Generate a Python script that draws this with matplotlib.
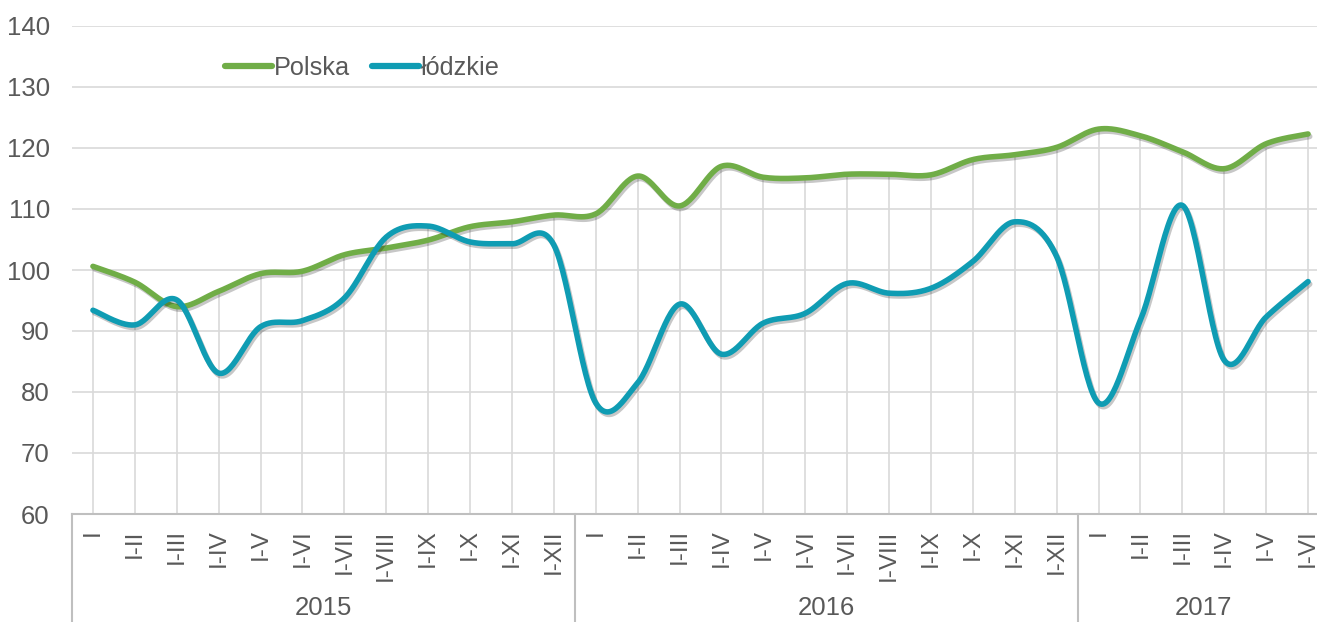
import numpy as np
import matplotlib
matplotlib.use("Agg")
import matplotlib.pyplot as plt
import matplotlib.patheffects as pe

plt.rcParams['font.family'] = ['Liberation Sans', 'DejaVu Sans']

months = ['I', 'I-II', 'I-III', 'I-IV', 'I-V', 'I-VI', 'I-VII', 'I-VIII',
          'I-IX', 'I-X', 'I-XI', 'I-XII']
years = ['2015', '2016', '2017']
year_lengths = [12, 12, 6]
labels = months + months + months[:6]

polska = [100.6, 98.0, 94.0, 96.5, 99.4, 99.8, 102.5, 103.6, 104.9, 107.1, 107.9, 109.0,
          109.2, 115.4, 110.5, 117.0, 115.2, 115.1, 115.7, 115.7, 115.6, 118.1, 118.9, 120.1,
          123.1, 122.0, 119.4, 116.6, 120.7, 122.3]
lodzkie = [93.4, 91.0, 95.1, 83.1, 90.7, 91.7, 95.4, 105.4, 107.2, 104.6, 104.3, 104.1,
           78.2, 81.5, 94.4, 86.2, 91.3, 92.9, 97.8, 96.2, 97.0, 101.4, 107.9, 102.2,
           78.2, 91.8, 110.6, 85.2, 92.3, 98.1]

GREEN = '#70AD47'
TEAL = '#0F9CB3'
GRID = '#D9D9D9'
TEXT = '#595959'


def smooth(y, n=30):
    # Catmull-Rom style bezier smoothing, like Excel's smoothed line
    y = np.asarray(y, float)
    x = np.arange(len(y), dtype=float)
    px = np.concatenate([[x[0]], x, [x[-1]]])
    py = np.concatenate([[y[0]], y, [y[-1]]])
    xs, ys = [], []
    t = np.linspace(0, 1, n)
    for i in range(len(y) - 1):
        p0 = np.array([px[i + 1], py[i + 1]])
        p3 = np.array([px[i + 2], py[i + 2]])
        b1 = p0 + (p3 - np.array([px[i], py[i]])) / 6
        b2 = p3 - (np.array([px[i + 3], py[i + 3]]) - p0) / 6
        pts = ((1 - t) ** 3)[:, None] * p0 + (3 * (1 - t) ** 2 * t)[:, None] * b1 \
            + (3 * (1 - t) * t ** 2)[:, None] * b2 + (t ** 3)[:, None] * p3
        xs.append(pts[:, 0])
        ys.append(pts[:, 1])
    return np.concatenate(xs), np.concatenate(ys)


fig = plt.figure(figsize=(13.17, 6.22), dpi=100)
ax = fig.add_axes([72 / 1317, 1 - 514 / 622, 1257 / 1317, 488 / 622])

n = len(labels)
x = np.arange(n)
ax.set_xlim(-0.5, n - 0.5)
ax.set_ylim(60, 140)

# horizontal gridlines
ax.set_yticks(range(60, 141, 10))
for v in range(70, 141, 10):
    ax.axhline(v, color=GRID, lw=1.2, zorder=0)

# drop lines from the higher series down to the axis
ax.vlines(x, 60, np.maximum(polska, lodzkie), color=GRID, lw=1.2, zorder=0)

shadow = [pe.SimpleLineShadow(offset=(1.2, -1.8), shadow_color='black', alpha=0.22),
          pe.Normal()]
sx, sy = smooth(polska)
ax.plot(sx, sy, color=GREEN, lw=4, solid_capstyle='round', label='Polska',
        path_effects=shadow, zorder=3)
sx, sy = smooth(lodzkie)
ax.plot(sx, sy, color=TEAL, lw=4, solid_capstyle='round', label='łódzkie',
        path_effects=shadow, zorder=3)

for s in ['top', 'right', 'left']:
    ax.spines[s].set_visible(False)
ax.spines['bottom'].set_color('#BFBFBF')
ax.spines['bottom'].set_linewidth(1.5)

ax.set_xticks(x)
ax.set_xticklabels(labels, rotation=90, va='top', ha='center')
ax.tick_params(axis='x', length=0, pad=11, labelsize=17.5, labelcolor=TEXT)
ax.tick_params(axis='y', length=0, pad=16, labelsize=18.5, labelcolor=TEXT)

# year group separators and labels
trans = ax.get_xaxis_transform()
bottom = -(1 - 514 / 622 + 0.01) / (488 / 622)
start = 0
for yr, ln in zip(years, year_lengths):
    ax.plot([start - 0.5, start - 0.5], [0, bottom], transform=trans,
            color='#BFBFBF', lw=1.5, clip_on=False)
    ax.text(start + (ln - 1) / 2, -94 / 488, yr, transform=trans, ha='center',
            va='center', fontsize=18.5, color=TEXT)
    start += ln
ax.plot([start - 0.5, start - 0.5], [0, bottom], transform=trans,
        color='#BFBFBF', lw=1.5, clip_on=False)

leg = ax.legend(loc='center left', bbox_to_anchor=(225 / 1317, 1 - 68 / 622),
                bbox_transform=fig.transFigure, ncol=2, frameon=False,
                fontsize=18.2, handlelength=1.85, handletextpad=0.1,
                columnspacing=0.85, borderaxespad=0, borderpad=0)
for t in leg.get_texts():
    t.set_color(TEXT)
for h in leg.get_lines():
    h.set_path_effects([])
    h.set_linewidth(4.5)

fig.savefig('out.png', dpi=100)
